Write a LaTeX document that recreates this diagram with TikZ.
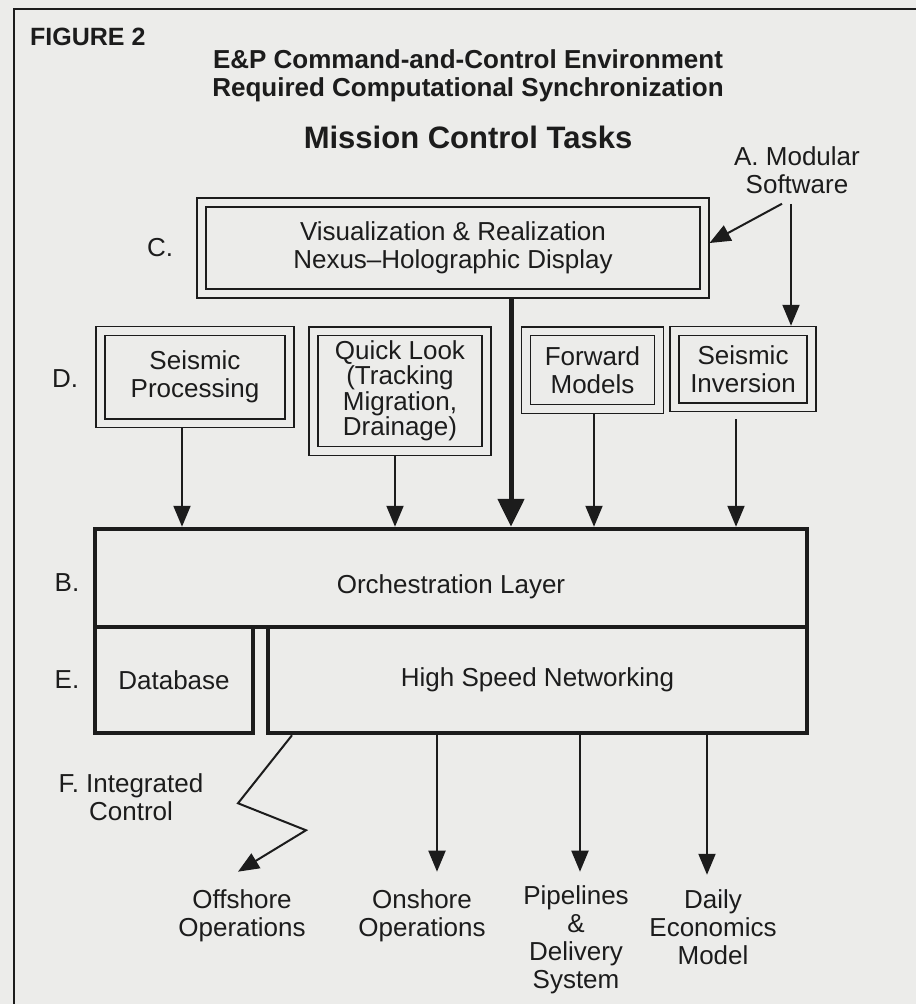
\documentclass[tikz,border=0pt]{standalone}
\usepackage{fontspec}
\setmainfont{Liberation Sans}
\usetikzlibrary{arrows.meta}
\definecolor{paper}{RGB}{236,236,234}
\definecolor{ink}{RGB}{28,28,28}

\begin{document}
\begin{tikzpicture}[x=1pt, y=-1pt, ink,
  txt/.style = {font=\fontsize{26}{28}\selectfont, align=center, inner sep=0pt},
  twobox/.style = {draw, double=paper, double distance=7.5pt, line width=1.4pt, txt, outer sep=5pt},
  layer/.style = {draw, line width=4.5pt, txt},
  arr/.style = {line width=2pt, -{Triangle[width=17pt,length=21pt]}},
  fat/.style = {line width=5pt, -{Triangle[width=26pt,length=28pt]}}]
\useasboundingbox[fill=paper] (0,0) rectangle (916,1004);
\draw[line width=2.5pt] (14,1004) -- (14,9) -- (916,9);

\node[txt, font=\bfseries\fontsize{25}{28}\selectfont, anchor=west] (fig) at (30,37) {FIGURE 2};
\node[txt, font=\bfseries\fontsize{26}{28}\selectfont] (title) at (468,76) {E\&P Command-and-Control Environment\\Required Computational Synchronization};
\node[txt, font=\bfseries\fontsize{31}{34}\selectfont] (mct) at (468,137) {Mission Control Tasks};
\node[txt] (modular) at (797,170) {A. Modular\\Software};

\node[twobox, minimum width=503pt, minimum height=91pt] (vis) at (453,248) {Visualization \& Realization\\Nexus--Holographic Display};
\node[twobox, minimum width=189pt, minimum height=92.5pt] (sp) at (195,377) {Seismic\\Processing};
\node[twobox, minimum width=173pt, minimum height=119.5pt, font=\fontsize{26}{25.5}\selectfont] (ql) at (400,391) {Quick Look\\(Tracking\\Migration,\\Drainage)};
\node[twobox, minimum width=133pt, minimum height=77.5pt] (fm) at (592.5,370) {Forward\\Models};
\node[twobox, minimum width=137pt, minimum height=76.5pt] (si) at (743,369) {Seismic\\Inversion};

\node[layer, minimum width=712pt, minimum height=98pt, text height=36pt, text depth=5pt] (orch) at (451,578) {Orchestration Layer};
\node[layer, minimum width=158pt, minimum height=106pt] (db) at (174,680) {Database};
\node[layer, minimum width=539pt, minimum height=106pt] (net) at (537.5,680) {High Speed Networking};

\node[txt] (c) at (160,248) {C.};
\node[txt] (d) at (65,379) {D.};
\node[txt] (b) at (67,583) {B.};
\node[txt] (e) at (67,680) {E.};
\node[txt] (f) at (131,797) {F. Integrated\\Control};

\node[txt] (off) at (242,916) {Offshore\\Operations};
\node[txt] (on) at (422,916) {Onshore\\Operations};
\node[txt] (pipe) at (576,940) {Pipelines\\\&\\Delivery\\System};
\node[txt] (daily) at (713,927) {Daily\\Economics\\Model};

\path[arr] ([xshift=-15pt,yshift=-10pt]modular.south) edge ([yshift=5pt]vis.east);
\path[arr] ([xshift=-6pt,yshift=-10pt]modular.south) edge ([xshift=48pt]si.north);
\path[fat] ([xshift=58pt]vis.south) edge ([xshift=58pt]vis.south |- orch.north);
\path[arr] ([xshift=-13pt]sp.south) edge ([xshift=-13pt]sp.south |- orch.north);
\path[arr] ([xshift=-5pt]ql.south) edge ([xshift=-5pt]ql.south |- orch.north);
\path[arr] ([xshift=1.5pt]fm.south) edge ([xshift=1.5pt]fm.south |- orch.north);
\path[arr] ([xshift=-7pt,yshift=-7pt]si.south) edge ([xshift=-7pt]si.south |- orch.north);

\draw[arr] ([xshift=-245.5pt]net.south) -- ++(-54,68) -- ++(68,27) -- ([xshift=-4pt,yshift=18pt]off.north);
\path[arr] ([xshift=-100.5pt]net.south) edge ([xshift=15pt,yshift=18pt]on.north);
\path[arr] ([xshift=42.5pt]net.south) edge ([xshift=4pt,yshift=14pt]pipe.north);
\path[arr] ([xshift=169.5pt]net.south) edge ([xshift=-6pt,yshift=14.5pt]daily.north);
\end{tikzpicture}
\end{document}
